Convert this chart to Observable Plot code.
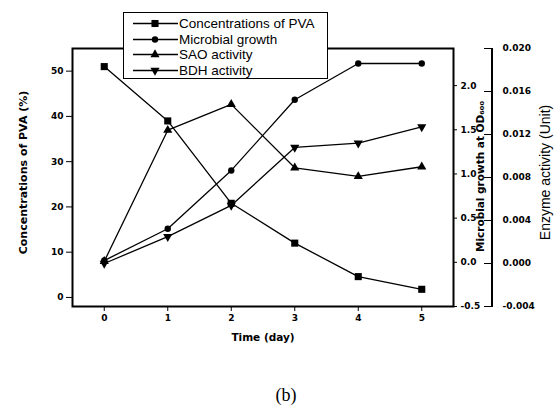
<!DOCTYPE html>
<html><head><meta charset="utf-8">
<script src="https://cdn.jsdelivr.net/npm/d3@7"></script>
<script src="https://cdn.jsdelivr.net/npm/@observablehq/plot@0.6"></script>
<style>
body{margin:0;background:#fff;}
#wrap{position:relative;width:557px;height:408px;overflow:hidden;}
#legend{position:absolute;left:123px;top:12px;width:205px;height:67px;border:1px solid #000;background:#fff;box-sizing:border-box;font:13.5px Arial,"Liberation Sans",sans-serif;color:#000;}
.row{position:absolute;left:0;height:15px;display:flex;align-items:center;white-space:nowrap;}
.row svg{display:block;margin-left:9px;margin-right:1px;}
#cap{position:absolute;left:270px;top:385px;width:32px;text-align:center;font:18px "Liberation Serif","Times New Roman",serif;}
</style>
</head><body>
<div id="wrap"><div id="chart"></div><div id="legend"></div><div id="cap">(b)</div></div>
<script>
const days = [0, 1, 2, 3, 4, 5];
const pva = [51, 39, 20.8, 12, 4.6, 1.8];
const growth = [0.02, 0.38, 1.04, 1.84, 2.25, 2.25];
const sao = [0.0002, 0.0124, 0.0148, 0.0089, 0.0081, 0.0090];
const bdh = [0.0, 0.0025, 0.0054, 0.0108, 0.0112, 0.0127];
const seriesNames = ["Concentrations of PVA", "Microbial growth", "SAO activity", "BDH activity"];
const xTicks = [0, 1, 2, 3, 4, 5];
const pvaTicks = [0, 10, 20, 30, 40, 50];
const growthTicks = [-0.5, 0, 0.5, 1.0, 1.5, 2.0];
const enzymeTicks = [-0.004, 0, 0.004, 0.008, 0.012, 0.016, 0.020];

const leftDomain = [-2, 55];
const gToL = d3.scaleLinear([-0.5, 2.42], leftDomain);
const eToL = d3.scaleLinear([-0.004, 0.020], leftDomain);
const clean = v => Math.abs(v) < 1e-9 ? 0 : v;

const rows = days.map((d, i) => ({day: d, pva: pva[i], g: gToL(growth[i]), sao: eToL(sao[i]), bdh: eToL(bdh[i])}));

const tickFont = {fontWeight: "bold", fontSize: 9, fontFamily: "DejaVu Sans"};
const lineStyle = {stroke: "black", strokeWidth: 1.3};

const chart = Plot.plot({
  width: 557, height: 408,
  marginLeft: 72, marginRight: 104, marginTop: 48, marginBottom: 102,
  style: {fontFamily: "DejaVu Sans", overflow: "visible", background: "white", color: "black"},
  x: {domain: [-0.5, 5.5]},
  y: {domain: leftDomain},
  marks: [
    Plot.axisX({ticks: xTicks, tickSize: 5, tickPadding: 3, tickFormat: d3.format("d"), label: null, ...tickFont}),
    Plot.axisY({ticks: pvaTicks, anchor: "left", tickSize: 6, tickPadding: 3, tickFormat: d3.format("d"), label: null, ...tickFont}),
    Plot.axisY({ticks: growthTicks.map(gToL), anchor: "right", tickSize: 3, tickPadding: 4, label: null,
      tickFormat: v => clean(gToL.invert(v)).toFixed(1), ...tickFont}),
    Plot.axisY({ticks: enzymeTicks.map(eToL), anchor: "right", dx: 30, tickSize: 9, tickPadding: 10, label: null,
      tickFormat: v => clean(eToL.invert(v)).toFixed(3), ...tickFont}),
    Plot.frame({strokeWidth: 2}),
    Plot.line(rows, {x: "day", y: "pva", ...lineStyle}),
    Plot.line(rows, {x: "day", y: "g", ...lineStyle}),
    Plot.line(rows, {x: "day", y: "sao", ...lineStyle}),
    Plot.line(rows, {x: "day", y: "bdh", ...lineStyle}),
    Plot.dot(rows, {x: "day", y: "pva", symbol: "square", r: 4, fill: "black"}),
    Plot.dot(rows, {x: "day", y: "g", symbol: "circle", r: 3.2, fill: "black"}),
    Plot.dot(rows, {x: "day", y: "sao", symbol: "triangle", r: 3.4, fill: "black"}),
    Plot.dot(rows, {x: "day", y: "bdh", symbol: "triangle", rotate: 180, r: 3.4, fill: "black"}),
    Plot.text(["Concentrations of PVA (%)"], {text: d => d, frameAnchor: "left", textAnchor: "middle", dx: -49, dy: -5, rotate: -90, fontWeight: "bold", fontSize: 11}),
    Plot.text(["Microbial growth at OD\u2086\u2080\u2080"], {text: d => d, frameAnchor: "right", textAnchor: "middle", dx: 27, dy: -1, rotate: -90, fontWeight: "bold", fontSize: 10.5}),
    Plot.text(["Enzyme activity (Unit)"], {text: d => d, frameAnchor: "right", textAnchor: "middle", dx: 92, dy: -5, rotate: -90, fontSize: 14, fontFamily: "Arial, 'Liberation Sans', sans-serif"}),
    Plot.text(["Time (day)"], {text: d => d, frameAnchor: "bottom", textAnchor: "middle", dy: 34, fontWeight: "bold", fontSize: 10.5})
  ]
});
document.getElementById("chart").appendChild(chart);

// enzyme axis line
const axX = 557 - 104 + 39;
d3.select(chart).append("line").attr("x1", axX).attr("x2", axX).attr("y1", 48).attr("y2", 307)
  .attr("stroke", "black").attr("stroke-width", 2);

// legend
const legendSymbols = [
  {type: d3.symbolSquare, size: 50, rot: 0},
  {type: d3.symbolCircle, size: 32, rot: 0},
  {type: d3.symbolTriangle, size: 36, rot: 0},
  {type: d3.symbolTriangle, size: 36, rot: 180}
];
const leg = d3.select("#legend");
seriesNames.forEach((name, i) => {
  const row = leg.append("div").attr("class", "row").style("top", (3 + i * 15.5) + "px");
  const svg = row.append("svg").attr("width", 45).attr("height", 15);
  svg.append("line").attr("x1", 0).attr("x2", 45).attr("y1", 7.5).attr("y2", 7.5).attr("stroke", "black").attr("stroke-width", 1.3);
  svg.append("path").attr("d", d3.symbol(legendSymbols[i].type, legendSymbols[i].size)())
    .attr("transform", `translate(22,7.5) rotate(${legendSymbols[i].rot})`).attr("fill", "black");
  row.append("span").text(name);
});
</script>
</body></html>
